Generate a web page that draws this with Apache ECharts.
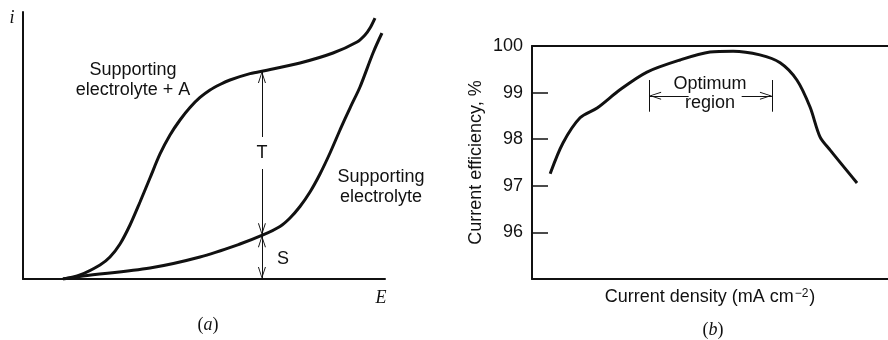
<!DOCTYPE html>
<html>
<head>
<meta charset="utf-8">
<script src="https://cdn.jsdelivr.net/npm/echarts@6/dist/echarts.min.js"></script>
<style>html,body{margin:0;padding:0;background:#fff}#c{width:888px;height:340px}</style>
</head>
<body>
<div id="c"></div>
<script>
// Panel (a): current-potential curves (arbitrary units)
const aUpperE = [11.05, 15.75, 21.27, 24.03, 26.80, 29.56, 32.32, 35.08, 37.85, 40.61, 43.37, 46.13, 48.90, 51.66, 54.42, 57.18, 62.71, 67.40, 76.52, 85.64, 92.27, 94.48, 95.86, 97.24];
const aUpperI = [0, 1.50, 5.24, 8.24, 13.11, 20.22, 28.84, 37.83, 46.82, 53.93, 59.55, 64.23, 67.98, 70.79, 72.85, 74.53, 76.93, 78.20, 80.90, 84.64, 88.76, 91.39, 94.01, 97.75];
const aLowerE = [11.05, 16.57, 35.08, 48.90, 59.94, 66.30, 70.99, 73.76, 76.52, 79.28, 82.04, 84.81, 87.57, 90.33, 93.09, 96.69, 99.17];
const aLowerI = [0, 1.12, 4.12, 8.24, 13.11, 16.48, 19.66, 22.85, 27.15, 32.58, 39.33, 47.19, 55.81, 64.04, 71.91, 84.64, 92.13];
const aArrowE = 66.0;                  // position of T / S arrows
const aArrowLevels = [77.9, 16.4, 0];  // top of T, T/S boundary, baseline
// Panel (b): current efficiency vs current density
const bDensity = [5.1, 8.7, 13.5, 18.3, 24.7, 32.3, 41.6, 50.0, 56.5, 64.0, 69.7, 74.4, 78.1, 80.9, 83.7, 91.3];
const bEfficiency = [97.26, 97.92, 98.46, 98.67, 99.06, 99.44, 99.70, 99.87, 99.89, 99.81, 99.64, 99.27, 98.69, 98.05, 97.77, 97.06];
const bTicks = [95, 96, 97, 98, 99, 100];
const bOptimum = [32.9, 67.4];        // bounds of optimum region
const bOptimumArrowInner = [44.0, 58.9];
const bOptimumBar = [98.59, 99.27];
const bOptimumArrowY = 98.93;

// open V arrowhead; the extra degenerate subpath puts the tip at the symbol centre
const chev = 'path://M0,12 L4,0 L8,12 L7,12 L4,2.6 L1,12 Z M0,-12 L8,-12 Z';
const ink = '#111';
const sans = 'Liberation Sans, Arial, sans-serif';
const serif = 'Liberation Serif, Times New Roman, serif';

const zip = (xs, ys) => xs.map((x, i) => [x, ys[i]]);

const chart = echarts.init(document.getElementById('c'));
const hidden = {show: false};
chart.setOption({
  animation: false,
  grid: [
    {left: 23, top: 12, right: 503, bottom: 61},
    {left: 532, top: 46, right: 0, bottom: 61}
  ],
  xAxis: [
    {gridIndex: 0, type: 'value', min: 0, max: 100,
     axisLine: {lineStyle: {color: ink, width: 2}}, axisTick: hidden, axisLabel: hidden, splitLine: hidden},
    {gridIndex: 1, type: 'value', min: 0, max: 100,
     axisLine: {onZero: false, lineStyle: {color: ink, width: 2}}, axisTick: hidden, axisLabel: hidden, splitLine: hidden,
     name: '{n|Current density (mA cm}{s|−2}{n|)}', nameLocation: 'middle', nameGap: 9,
     nameTextStyle: {rich: {
       n: {fontFamily: sans, fontSize: 18, color: ink},
       s: {fontFamily: sans, fontSize: 12, color: ink, verticalAlign: 'top', padding: [0, 1, 6, 1]}
     }}},
    {gridIndex: 1, type: 'value', position: 'top', min: 0, max: 100,
     axisLine: {onZero: false, lineStyle: {color: ink, width: 2}}, axisTick: hidden, axisLabel: hidden, splitLine: hidden}
  ],
  yAxis: [
    {gridIndex: 0, type: 'value', min: 0, max: 100,
     axisLine: {lineStyle: {color: ink, width: 2}}, axisTick: hidden, axisLabel: hidden, splitLine: hidden},
    {gridIndex: 1, type: 'value', min: bTicks[0], max: bTicks[bTicks.length - 1], interval: 1,
     axisLine: {show: true, onZero: false, lineStyle: {color: ink, width: 2}},
     axisTick: {show: true, inside: true, length: 16, lineStyle: {color: ink, width: 1.5}},
     axisLabel: {showMinLabel: false, margin: 9, fontFamily: sans, fontSize: 18, color: ink},
     splitLine: hidden,
     name: 'Current efficiency, %', nameLocation: 'middle', nameRotate: 90, nameGap: 47,
     nameTextStyle: {fontFamily: sans, fontSize: 18, color: ink}}
  ],
  series: [
    {type: 'line', xAxisIndex: 0, yAxisIndex: 0, data: zip(aUpperE, aUpperI), smooth: 0.3,
     showSymbol: false, lineStyle: {color: ink, width: 3}, silent: true,
     markLine: {silent: true, symbol: [chev, chev], symbolSize: [8, 24], label: hidden,
       lineStyle: {color: ink, width: 1, type: 'solid'}, itemStyle: {color: ink},
       data: [
         [{coord: [aArrowE, aArrowLevels[0]]}, {coord: [aArrowE, aArrowLevels[1]]}],
         [{coord: [aArrowE, aArrowLevels[1]]}, {coord: [aArrowE, aArrowLevels[2]]}]
       ]}},
    {type: 'line', xAxisIndex: 0, yAxisIndex: 0, data: zip(aLowerE, aLowerI), smooth: 0.3,
     showSymbol: false, lineStyle: {color: ink, width: 3}, silent: true},
    {type: 'line', xAxisIndex: 1, yAxisIndex: 1, data: zip(bDensity, bEfficiency), smooth: 0.3,
     showSymbol: false, lineStyle: {color: ink, width: 3}, silent: true,
     markLine: {silent: true, symbol: ['none', 'none'], symbolSize: [8, 24], label: hidden,
       lineStyle: {color: ink, width: 1, type: 'solid'}, itemStyle: {color: ink},
       data: [
         [{coord: [bOptimum[0], bOptimumBar[0]]}, {coord: [bOptimum[0], bOptimumBar[1]]}],
         [{coord: [bOptimum[1], bOptimumBar[0]]}, {coord: [bOptimum[1], bOptimumBar[1]]}],
         [{coord: [bOptimumArrowInner[0], bOptimumArrowY], symbol: 'none'}, {coord: [bOptimum[0], bOptimumArrowY], symbol: chev}],
         [{coord: [bOptimumArrowInner[1], bOptimumArrowY], symbol: 'none'}, {coord: [bOptimum[1], bOptimumArrowY], symbol: chev}]
       ]}}
  ],
  graphic: [
    {type: 'text', x: 12, y: 18, z: 10, style: {text: 'i', font: 'italic 18px ' + serif, fill: ink, align: 'center', verticalAlign: 'middle'}},
    {type: 'text', x: 381, y: 298, z: 10, style: {text: 'E', font: 'italic 18px ' + serif, fill: ink, align: 'center', verticalAlign: 'middle'}},
    {type: 'text', x: 133, y: 80, z: 10, style: {text: 'Supporting\nelectrolyte + A', font: '18px ' + sans, lineHeight: 20, fill: ink, align: 'center', verticalAlign: 'middle'}},
    {type: 'text', x: 381, y: 187, z: 10, style: {text: 'Supporting\nelectrolyte', font: '18px ' + sans, lineHeight: 20, fill: ink, align: 'center', verticalAlign: 'middle'}},
    {type: 'text', x: 262, y: 153, z: 10, style: {text: 'T', font: '18px ' + sans, fill: ink, backgroundColor: '#fff', padding: [7, 2, 7, 2], align: 'center', verticalAlign: 'middle'}},
    {type: 'text', x: 283, y: 259, z: 10, style: {text: 'S', font: '18px ' + sans, fill: ink, align: 'center', verticalAlign: 'middle'}},
    {type: 'text', x: 710, y: 94, z: 10, style: {text: 'Optimum\nregion', font: '18px ' + sans, lineHeight: 19, fill: ink, align: 'center', verticalAlign: 'middle'}},
    {type: 'text', x: 208, y: 325, z: 10, style: {rich: {p: {fontFamily: serif, fontSize: 18, fill: ink}, l: {fontFamily: serif, fontStyle: 'italic', fontSize: 18, fill: ink}}, text: '{p|(}{l|a}{p|)}', align: 'center', verticalAlign: 'middle'}},
    {type: 'text', x: 713, y: 330, z: 10, style: {rich: {p: {fontFamily: serif, fontSize: 18, fill: ink}, l: {fontFamily: serif, fontStyle: 'italic', fontSize: 18, fill: ink}}, text: '{p|(}{l|b}{p|)}', align: 'center', verticalAlign: 'middle'}}
  ]
});
</script>
</body>
</html>
